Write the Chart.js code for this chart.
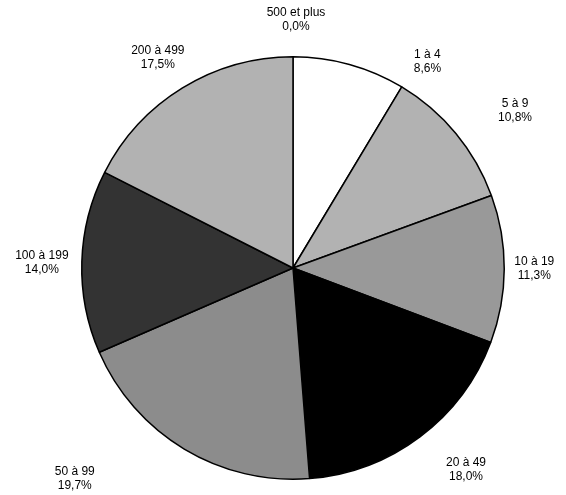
<!DOCTYPE html>
<html>
<head>
<meta charset="utf-8">
<script src="https://cdn.jsdelivr.net/npm/chart.js@4"></script>
<style>
  html, body { margin: 0; padding: 0; background: #fff; }
  #wrap { width: 566px; height: 495px; }
</style>
</head>
<body>
<div id="wrap"><canvas id="pie"></canvas></div>
<script>
const categories = ['1 à 4', '5 à 9', '10 à 19', '20 à 49', '50 à 99', '100 à 199', '200 à 499', '500 et plus'];
const shares = [8.6, 10.8, 11.3, 18.0, 19.7, 14.0, 17.5, 0.0];
const fills = ['#ffffff', '#b2b2b2', '#999999', '#000000', '#8c8c8c', '#333333', '#b2b2b2', '#777777'];

// nudges so labels sit where the original placed them
const labelNudge = [[70, 26], [36, -4], [0, 0], [28, 9], [-94, 4], [-10, 2], [-9, -5], [3, -7]];

const outsideLabels = {
  id: 'outsideLabels',
  afterDatasetsDraw(chart) {
    const c = chart.ctx;
    const meta = chart.getDatasetMeta(0);
    c.save();
    c.font = '12px "Liberation Sans", Arial, sans-serif';
    c.fillStyle = '#000';
    c.textAlign = 'center';
    c.textBaseline = 'middle';
    meta.data.forEach((arc, i) => {
      const p = arc.getProps(['x', 'y', 'startAngle', 'endAngle', 'outerRadius'], true);
      const mid = (p.startAngle + p.endAngle) / 2;
      const r = p.outerRadius + 30;
      const x = p.x + Math.cos(mid) * r + labelNudge[i][0];
      const y = p.y + Math.sin(mid) * r + labelNudge[i][1];
      const pct = shares[i].toFixed(1).replace('.', ',') + '%';
      c.fillText(categories[i], x, y - 7);
      c.fillText(pct, x, y + 7);
    });
    c.restore();
  }
};

new Chart(document.getElementById('pie'), {
  type: 'pie',
  data: {
    labels: categories,
    datasets: [{
      data: shares,
      backgroundColor: fills,
      borderColor: '#000',
      borderWidth: 1.5,
      borderAlign: 'center'
    }]
  },
  options: {
    responsive: true,
    maintainAspectRatio: false,
    animation: false,
    layout: { padding: { left: 81, right: 61, top: 56, bottom: 15 } },
    plugins: {
      legend: { display: false },
      tooltip: { enabled: false }
    }
  },
  plugins: [outsideLabels]
});
</script>
</body>
</html>
